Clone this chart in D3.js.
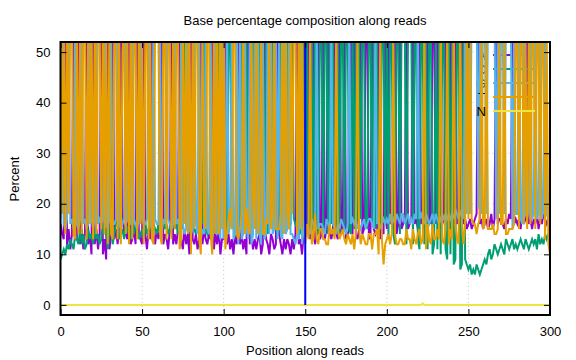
<!DOCTYPE html>
<html><head><meta charset="utf-8">
<script src="https://cdn.jsdelivr.net/npm/d3@7/dist/d3.min.js"></script>
<style>body{margin:0;background:#fff}svg{display:block;font-family:"Liberation Sans",Arial,Helvetica,sans-serif}</style>
</head><body><svg id="c" width="576" height="360"></svg>
<script>
// Percent per position (0..300)
const baseA = [16,14,13,60,12,15,11,14,62,13, 13,61,12,15,11,14,63,12,14,10, 62,12,15,11,14,60,10,13,9,64, 11,14,61,13,15,12,16,62,19,14,
 14,13,60,12,13,15,12,61,14,13, 12,62,14,11,15,13,60,14,12,15, 13,15,62,12,14,13,11,15,60,12, 14,12,15,60,13,11,15,12,14,10,
 61,13,12,14,11,13,60,12,15,13, 12,14,13,62,11,14,12,15,10,13, 13,60,12,14,11,13,10,14,12,59, 12,14,11,13,10,58,12,14,11,13,
 11,13,14,10,12,57,13,12,10,14, 13,11,12,58,14,12,10,13,11,13, 12,10,13,11,14,57,12,13,10,14, 57,14,58,13,15,56,12,14,59,13,
 14,57,13,15,58,14,13,15,56,14, 13,58,14,15,57,13,14,15,58,14, 58,14,13,15,56,14,15,57,55,13, 14,57,15,14,15,58,13,15,14,56,
 15,57,16,17,15,58,14,16,57,15, 16,17,56,15,16,17,57,16,17,15, 57,16,17,15,16,56,17,16,56,57, 16,57,17,15,16,17,56,16,15,58,
 17,16,56,16,17,15,57,16,17,15, 16,17,15,16,17,18,58,16,17,15, 16,17,15,16,18,15,17,58,16,17, 17,16,15,17,16,18,17,57,16,17,
 16,17,15,18,16,17,56,16,17,15, 17,16,18,15,17,16,18,17,16,17, 17];
const baseC = [9,10,11,10,12,11,13,12,11,14, 13,12,15,12,14,11,12,15,13,14, 12,15,13,14,12,13,16,14,15,11, 15,16,12,14,16,17,13,14,15,13,
 16,15,14,13,17,14,16,15,13,14, 15,13,16,14,15,17,14,16,15,14, 16,14,15,17,15,16,14,15,16,17, 15,16,14,15,16,15,55,16,15,16,
 15,16,15,14,16,15,17,16,54,15, 14,15,16,15,17,14,16,56,15,16, 15,14,16,55,54,15,17,16,15,16, 16,55,15,17,56,14,16,15,54,17,
 15,16,55,17,15,16,56,14,16,15, 55,16,15,14,15,56,17,16,15,54, 15,16,55,17,16,15,16,14,15,54, 15,55,14,16,56,15,55,15,14,56,
 55,15,57,56,14,55,16,54,16,15, 56,14,55,54,15,56,56,15,14,55, 15,55,16,54,17,56,55,16,15,56, 55,16,56,15,54,15,16,56,55,16,
 55,13,54,53,14,12,56,55,14,54, 54,55,12,54,55,55,12,53,54,13, 11,54,53,12,55,11,54,55,10,12, 53,11,54,10,53,54,11,9,55,10,
 52,8,9,53,54,7,8,55,9,8, 7,8,6,7,6,8,7,6,7,8, 9,8,10,11,9,10,12,11,10,11, 12,11,10,13,12,11,12,13,11,12,
 11,12,13,12,11,13,12,11,12,13, 12,13,11,14,12,13,12,14,13,14, 14];
const baseG = [17,58,16,15,17,56,16,17,15,60, 16,15,17,59,16,17,15,16,57,17, 15,17,58,16,17,16,17,59,16,15, 17,56,16,16,17,58,16,15,16,17,
 56,17,16,16,58,17,16,15,17,57, 17,16,16,17,57,16,15,58,17,16, 16,57,14,17,16,58,17,16,15,16, 56,16,17,14,58,16,14,15,57,15,
 14,15,58,16,14,59,13,15,14,57, 15,14,57,13,15,58,14,15,13,56, 13,15,58,14,16,57,13,14,59,12, 57,13,14,56,15,13,58,12,14,55,
 13,57,14,12,59,13,14,58,14,56, 14,15,58,13,56,14,13,57,14,15, 58,14,14,13,12,14,13,58,12,15, 16,15,15,14,17,16,15,58,15,16,
 16,15,14,17,16,15,57,16,15,14, 16,15,17,16,15,14,16,57,16,17, 16,17,15,16,15,16,17,15,16,17, 17,16,15,57,16,17,15,16,17,16,
 17,16,18,16,17,16,18,17,16,18, 18,16,17,18,16,17,16,18,17,58, 17,18,17,16,18,17,16,17,18,16, 18,17,16,17,18,17,18,17,18,17,
 18,17,19,18,17,18,19,17,58,18, 60,18,62,61,59,60,19,61,18,62, 59,18,60,58,58,59,57,17,59,18, 55,57,18,56,58,56,56,15,57,18,
 18,56,17,16,57,18,17,19,55,17, 18,56,17,18,55,17,19,56,18,17, 17];
const baseT = [58,18,60,14,59,18,60,57,14,13, 58,14,56,14,59,58,13,57,16,59, 13,56,14,59,57,15,57,14,57,12, 57,14,13,57,52,13,55,12,50,56,
 14,55,12,59,13,54,56,13,56,16, 56,12,54,58,13,54,13,12,56,55, 55,14,12,54,55,13,58,54,13,55, 15,56,54,11,13,58,16,57,14,59,
 10,56,15,56,59,13,10,57,17,15, 59,57,14,10,57,14,58,14,62,15, 59,11,14,17,19,15,60,56,14,13, 15,18,60,14,19,15,14,59,21,15,
 61,14,17,61,14,14,17,16,60,15, 18,58,15,15,15,18,60,14,60,18, 15,60,18,59,58,14,59,15,63,17, 12,16,13,57,12,13,18,13,12,15,
 15,13,13,12,12,16,14,15,13,57, 15,13,14,15,13,12,14,13,12,14, 11,14,56,15,12,14,13,12,12,14, 14,11,14,14,15,10,56,13,8,12,
 13,14,12,14,54,14,12,12,13,13, 12,12,15,13,13,11,15,13,12,14, 15,12,13,57,11,16,13,12,16,13, 13,15,13,58,13,12,15,58,12,15,
 13,59,16,13,12,60,16,12,16,59, 17,57,17,16,16,14,16,17,58,15, 16,57,15,15,15,16,14,14,15,54, 16,16,57,14,14,15,15,15,16,53,
 55,15,55,54,16,52,15,54,16,55, 53,15,54,53,16,54,51,13,53,12, 10];
// N: flat at zero with one tiny bump
const nPositions = [0, 221, 222, 223, 300];
const nValues = [0, 0, 0.3, 0, 0];

const seriesNames = ["A", "C", "G", "T", "N"];
const seriesColors = ["#9400d3", "#009e73", "#56b4e9", "#e69f00", "#f0e442"];
const xTicks = [0, 50, 100, 150, 200, 250, 300];
const yTicks = [0, 10, 20, 30, 40, 50];
const markerPos = 150;

const svg = d3.select("#c");
const L = 60.5, R = 550, T = 42, B = 315;
const x = d3.scaleLinear().domain([0, 300]).range([L, R]);
const y = d3.scaleLinear().domain([-2, 52]).range([B, T]);

svg.append("rect").attr("width", 576).attr("height", 360).attr("fill", "#fff");

// grid
const grid = svg.append("g").attr("stroke", "#c8c8c8").attr("stroke-width", 1).attr("stroke-dasharray", "1,3");
grid.selectAll(".gx").data(xTicks.filter(d => d > 0 && d < 300)).join("line")
  .attr("x1", d => x(d)).attr("x2", d => x(d)).attr("y1", T).attr("y2", B);
grid.selectAll(".gy").data(yTicks).join("line")
  .attr("x1", L).attr("x2", R).attr("y1", d => y(d)).attr("y2", d => y(d));

svg.append("defs").append("clipPath").attr("id", "clip")
  .append("rect").attr("x", L).attr("y", T).attr("width", R - L).attr("height", B - T);

const line = d3.line().x(d => x(d[0])).y(d => y(d[1]));
const seriesData = [baseA, baseC, baseG, baseT].map(arr => arr.map((v, k) => [k, v]));
seriesData.push(nPositions.map((p, k) => [p, nValues[k]]));

// each series: its key entry, then its data (later series draw over earlier keys)
seriesNames.forEach((n, i) => {
  const ly = 55 + i * 14;
  svg.append("text").attr("x", 486).attr("y", ly).attr("dy", "0.35em").attr("text-anchor", "end")
    .attr("font-size", 13).attr("fill", "#000").text(n);
  svg.append("line").attr("x1", 493).attr("x2", 535).attr("y1", ly).attr("y2", ly)
    .attr("stroke", seriesColors[i]).attr("stroke-width", 2);
  svg.append("path").attr("clip-path", "url(#clip)").datum(seriesData[i])
    .attr("d", line).attr("fill", "none").attr("stroke", seriesColors[i])
    .attr("stroke-width", 2);
});

// marker line at 150
svg.append("line").attr("x1", x(markerPos)).attr("x2", x(markerPos)).attr("y1", y(0)).attr("y2", T)
  .attr("stroke", "#0000ff").attr("stroke-width", 2);

// axes (ticks inward, mirrored)
function styleAxis(g) {
  g.select(".domain").remove();
  g.selectAll(".tick line").attr("stroke", "#000").attr("stroke-width", 1);
  g.selectAll("text").attr("font-size", 13).attr("fill", "#000").attr("font-family", "Liberation Sans, Arial, sans-serif");
}
svg.append("g").attr("transform", `translate(0,${B})`)
  .call(d3.axisBottom(x).tickValues(xTicks).tickSizeInner(-6).tickSizeOuter(0).tickPadding(12))
  .call(styleAxis);
svg.append("g").attr("transform", `translate(0,${T})`)
  .call(d3.axisTop(x).tickValues(xTicks).tickSizeInner(-6).tickSizeOuter(0).tickFormat(""))
  .call(styleAxis);
svg.append("g").attr("transform", `translate(${L},0)`)
  .call(d3.axisLeft(y).tickValues(yTicks).tickSizeInner(-6).tickSizeOuter(0).tickPadding(10))
  .call(styleAxis);
svg.append("g").attr("transform", `translate(${R},0)`)
  .call(d3.axisRight(y).tickValues(yTicks).tickSizeInner(-6).tickSizeOuter(0).tickFormat(""))
  .call(styleAxis);

svg.append("rect").attr("x", L).attr("y", T).attr("width", R - L).attr("height", B - T)
  .attr("fill", "none").attr("stroke", "#000").attr("stroke-width", 2);

// titles
svg.append("text").attr("x", 305).attr("y", 25).attr("text-anchor", "middle").attr("font-size", 13).text("Base percentage composition along reads");
svg.append("text").attr("x", 305).attr("y", 355).attr("text-anchor", "middle").attr("font-size", 13).text("Position along reads");
svg.append("text").attr("transform", "translate(19,179) rotate(-90)").attr("text-anchor", "middle").attr("font-size", 13).text("Percent");
</script></body></html>
